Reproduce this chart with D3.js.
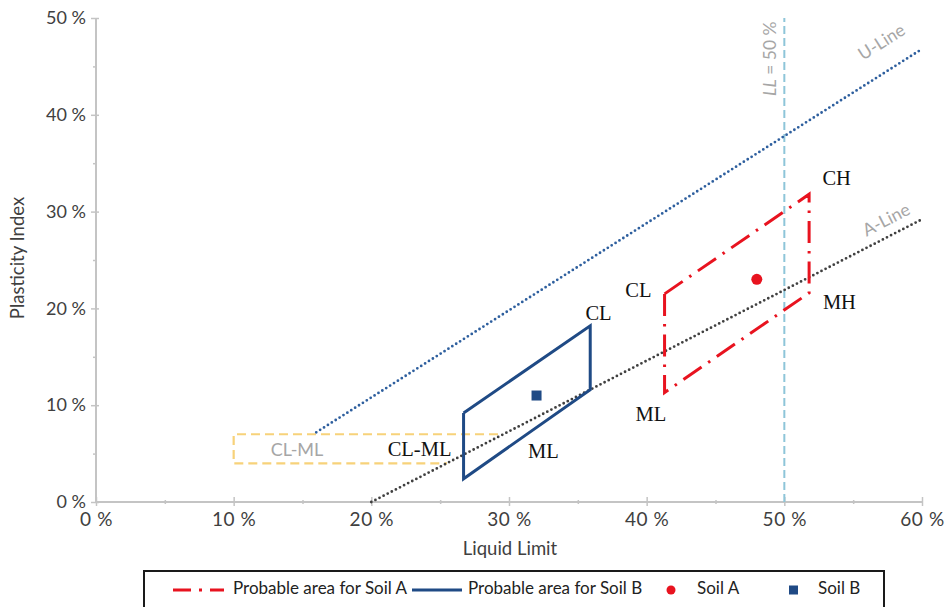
<!DOCTYPE html>
<html><head><meta charset="utf-8">
<script src="https://cdn.jsdelivr.net/npm/d3@7"></script>
<style>
body{margin:0;background:#fff;}
svg{display:block;font-family:Lato,"Open Sans",sans-serif;}
</style></head>
<body><svg id="c" width="949" height="607"></svg>
<script>
// ---- data ----
const xTicks = [0,10,20,30,40,50,60];
const yTicks = [0,10,20,30,40,50];
const xMinor = [5,15,25,35,45,55];
const yMinor = [5,15,25,35,45];
// U-line & A-line endpoints [LL, PI]
const uLine = [[16,7.2],[60,46.8]];
const aLine = [[20,0],[60,29.2]];
const llLine = [[50,0],[50,50]];
// CL-ML zone (open outline)
const clmlZone = [[29.2,7],[10,7],[10,4],[25.5,4]];
// probable areas [LL, PI]
const soilAArea = [[41.3,21.5],[51.8,31.8],[51.8,21.6],[41.3,11.3],[41.3,21.5]];
const soilBArea = [[26.7,9.2],[35.9,18.2],[35.9,11.6],[26.7,2.4],[26.7,9.2]];
const soilA = [[48.0,23.0]];
const soilB = [[32.0,11.0]];
// zone labels [text, LL, PI]
const labelsA = [["CH",53.8,33.2],["CL",39.4,21.7],["MH",54.0,20.4],["ML",40.3,8.9]];
const labelsB = [["CL",36.5,19.3],["ML",32.5,5.0],["CL-ML",23.5,5.2]];
const legendItems = ["Probable area for Soil A","Probable area for Soil B","Soil A","Soil B"];

const svg = d3.select("#c");
const x = d3.scaleLinear().domain([0,60]).range([96,922]);
const y = d3.scaleLinear().domain([0,50]).range([502,18]);
const line = d3.line().x(d=>x(d[0])).y(d=>y(d[1]));
const axisCol = "#c4c4c4", textCol = "#404040";

// axes lines
svg.append("line").attr("x1",x(0)).attr("x2",x(0)).attr("y1",y(0)).attr("y2",y(50)).attr("stroke",axisCol).attr("stroke-width",2);
svg.append("line").attr("x1",x(0)).attr("x2",x(60)).attr("y1",y(0)).attr("y2",y(0)).attr("stroke",axisCol).attr("stroke-width",2);

// y axis
const ya = svg.append("g").attr("transform",`translate(${x(0)},0)`)
  .call(d3.axisLeft(y).tickValues(yTicks).tickFormat(d=>d+" %").tickSize(5));
ya.select(".domain").remove();
ya.selectAll(".tick line").attr("x2",-5).attr("x1",3).attr("stroke",axisCol).attr("stroke-width",1.5);
ya.selectAll(".tick text").attr("x",-10).attr("font-size",18).attr("fill",textCol).attr("font-family","Lato,sans-serif");
const yam = svg.append("g").attr("transform",`translate(${x(0)},0)`)
  .call(d3.axisLeft(y).tickValues(yMinor).tickFormat("").tickSize(3));
yam.select(".domain").remove();
yam.selectAll(".tick line").attr("stroke",axisCol).attr("stroke-width",1.5);

// x axis
const xa = svg.append("g").attr("transform",`translate(0,${y(0)})`)
  .call(d3.axisBottom(x).tickValues(xTicks).tickFormat(d=>d+" %").tickSize(5));
xa.select(".domain").remove();
xa.selectAll(".tick line").attr("y1",-5).attr("y2",4).attr("stroke",axisCol).attr("stroke-width",1.5);
xa.selectAll(".tick text").attr("y",11).attr("font-size",19).attr("fill",textCol).attr("font-family","Lato,sans-serif").attr("letter-spacing","0.6px");
const xam = svg.append("g").attr("transform",`translate(0,${y(0)})`)
  .call(d3.axisBottom(x).tickValues(xMinor).tickFormat("").tickSize(3));
xam.select(".domain").remove();
xam.selectAll(".tick line").attr("y1",-2).attr("y2",2).attr("stroke",axisCol).attr("stroke-width",1.5);

// axis titles
svg.append("text").attr("x",510).attr("y",555).attr("text-anchor","middle").attr("font-size",18.5).attr("fill",textCol).text("Liquid Limit");
svg.append("text").attr("transform","translate(24,258) rotate(-90)").attr("text-anchor","middle").attr("font-size",18.5).attr("fill",textCol).text("Plasticity Index");

// CL-ML zone
svg.append("path").attr("d",line(clmlZone)).attr("fill","none").attr("stroke","#f7d27a").attr("stroke-width",2.2).attr("stroke-dasharray","9,5");
svg.append("text").attr("x",x(14.6)).attr("y",y(5.2)).attr("text-anchor","middle").attr("dominant-baseline","middle").attr("font-size",18).attr("fill","#a6a6a6").text("CL-ML");

// LL = 50 line
svg.append("path").attr("d",line(llLine)).attr("fill","none").attr("stroke","#8ec5d9").attr("stroke-width",2).attr("stroke-dasharray","8,4");
const llt = svg.append("text").attr("transform",`translate(${x(50)-8},${y(45.8)}) rotate(-90)`).attr("text-anchor","middle").attr("font-size",17.5).attr("fill","#a6a6a6");
llt.append("tspan").attr("font-style","italic").text("LL");
llt.append("tspan").text(" = 50 %");

// U-line / A-line
svg.append("path").attr("d",line(uLine)).attr("fill","none").attr("stroke","#2e5f9e").attr("stroke-width",2.8).attr("stroke-dasharray","0,4.6").attr("stroke-linecap","round");
svg.append("path").attr("d",line(aLine)).attr("fill","none").attr("stroke","#404040").attr("stroke-width",2.8).attr("stroke-dasharray","0,4.6").attr("stroke-linecap","round");
const angU = Math.atan2(y(uLine[1][1])-y(uLine[0][1]), x(uLine[1][0])-x(uLine[0][0]))*180/Math.PI;
const angA = Math.atan2(y(aLine[1][1])-y(aLine[0][1]), x(aLine[1][0])-x(aLine[0][0]))*180/Math.PI;
svg.append("text").attr("transform",`translate(${x(57.3)},${y(47.0)}) rotate(${angU})`).attr("text-anchor","middle").attr("font-size",17.5).attr("fill","#a6a6a6").text("U-Line");
svg.append("text").attr("transform",`translate(${x(57.6)},${y(28.6)}) rotate(${angA})`).attr("text-anchor","middle").attr("font-size",17.5).attr("fill","#a6a6a6").text("A-Line");

// probable areas
const redCol = "#e8131f", blueCol = "#1f4a85";
svg.append("path").attr("d",line(soilAArea)).attr("fill","none").attr("stroke",redCol).attr("stroke-width",3).attr("stroke-dasharray","22,8,2.5,8");
svg.append("path").attr("d",line(soilBArea)).attr("fill","none").attr("stroke",blueCol).attr("stroke-width",3).attr("stroke-linejoin","miter");

// points
svg.selectAll(".pa").data(soilA).join("circle").attr("cx",d=>x(d[0])).attr("cy",d=>y(d[1])).attr("r",5.5).attr("fill",redCol);
svg.selectAll(".pb").data(soilB).join("rect").attr("x",d=>x(d[0])-5).attr("y",d=>y(d[1])-5).attr("width",10).attr("height",10).attr("fill",blueCol);

// zone labels (serif)
svg.selectAll(".la").data(labelsA.concat(labelsB)).join("text")
  .attr("x",d=>x(d[1])).attr("y",d=>y(d[2])).attr("text-anchor","middle").attr("dominant-baseline","middle")
  .attr("font-family","'Liberation Serif','Times New Roman',serif").attr("font-size",20.5).attr("fill","#111").text(d=>d[0]);

// legend
const lg = svg.append("g");
lg.append("rect").attr("x",144).attr("y",571).attr("width",740).attr("height",50).attr("fill","#fff").attr("stroke","#1a1a1a").attr("stroke-width",2);
const ly = 590;
lg.append("line").attr("x1",173).attr("x2",224).attr("y1",ly).attr("y2",ly).attr("stroke",redCol).attr("stroke-width",3).attr("stroke-dasharray","18,8,3,8");
lg.append("text").attr("x",233).attr("y",ly).attr("dominant-baseline","middle").attr("font-size",17).attr("fill","#222").text(legendItems[0]);
lg.append("line").attr("x1",412).attr("x2",462).attr("y1",ly).attr("y2",ly).attr("stroke",blueCol).attr("stroke-width",3);
lg.append("text").attr("x",468).attr("y",ly).attr("dominant-baseline","middle").attr("font-size",17).attr("fill","#222").text(legendItems[1]);
lg.append("circle").attr("cx",671).attr("cy",ly).attr("r",4.5).attr("fill",redCol);
lg.append("text").attr("x",697).attr("y",ly).attr("dominant-baseline","middle").attr("font-size",17).attr("fill","#222").text(legendItems[2]);
lg.append("rect").attr("x",789).attr("y",ly-4.5).attr("width",9).attr("height",9).attr("fill",blueCol);
lg.append("text").attr("x",818).attr("y",ly).attr("dominant-baseline","middle").attr("font-size",17).attr("fill","#222").text(legendItems[3]);
</script></body></html>
